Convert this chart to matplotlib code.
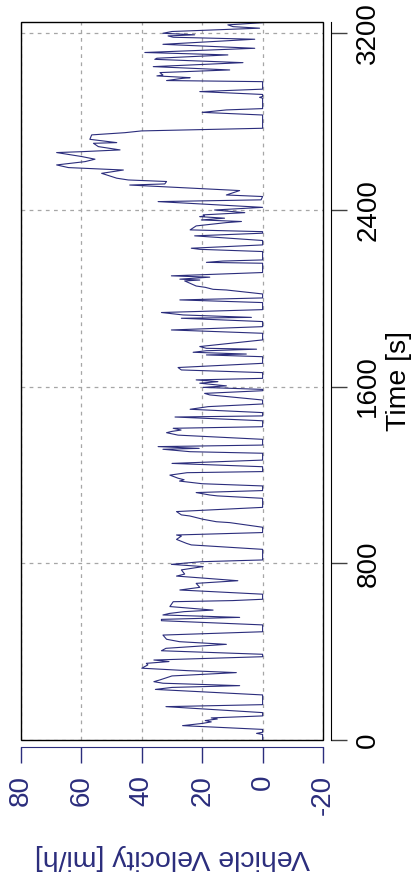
import matplotlib
matplotlib.use('Agg')
import matplotlib.pyplot as plt
from matplotlib.patches import Rectangle

# drive cycle trace (time in s, speed in mi/h)
time_s = [
    0, 25, 30, 35, 48, 65, 75, 82, 88, 95, 100, 109, 124, 151, 160,
    204, 229, 238, 246, 257, 264, 272, 290, 305, 314, 325, 340, 347, 355, 362,
    377, 388, 404, 415, 433, 445, 456, 475, 490, 521, 540, 546, 555, 566, 573,
    581, 588,
    604, 626, 631, 637, 660, 679, 687, 691, 709, 721, 742, 751, 770, 785, 795,
    800, 807, 815, 863, 883, 890, 908, 923, 928, 939, 963, 984, 988, 999, 1014,
    1019, 1034, 1053,
    1094, 1105, 1109, 1120, 1129, 1150, 1160, 1172, 1178, 1185, 1199, 1210, 1215,
    1237, 1252, 1267, 1298, 1305, 1310, 1316, 1320, 1328, 1335, 1361, 1380, 1391,
    1397, 1403, 1411, 1418, 1445, 1462, 1467, 1482, 1497, 1509, 1521, 1539,
    1562, 1569, 1581, 1587, 1596, 1603, 1615, 1622, 1630, 1637, 1663, 1675, 1686,
    1705, 1735, 1743, 1747, 1755, 1762, 1769, 1773, 1781, 1811, 1841, 1856, 1871,
    1894, 1909, 1913, 1924, 1935, 1948, 1980, 1992,
    2001, 2019, 2037, 2040, 2049, 2055, 2078, 2082, 2086, 2095, 2101, 2116, 2158,
    2162, 2168, 2173, 2211, 2221, 2226, 2241, 2261, 2282, 2294, 2301, 2309, 2327,
    2342, 2347, 2354, 2362, 2369, 2372, 2377, 2387, 2399, 2411, 2437, 2445,
    2460, 2467, 2487, 2493, 2512, 2517, 2528, 2535, 2543, 2565, 2580, 2591, 2603,
    2618, 2629, 2641, 2648, 2659, 2663, 2671, 2686, 2701, 2704, 2719, 2739, 2749,
    2757, 2769, 2829, 2841, 2852, 2858,
    2905, 2909, 2913, 2922, 2935, 2946, 2980, 2985, 2995, 2998, 3006, 3010, 3021,
    3033, 3048, 3066, 3081, 3086, 3101, 3112, 3131, 3149, 3172, 3181, 3187, 3192,
    3199, 3207, 3222, 3229, 3237, 3247, 3252,
]
speed_mph = [
    0, 0, 2, 0, 0, 26.5, 20, 17, 19, 15, 17, 0, 0, 32, 0,
    0, 35.5, 30, 7.6, 33, 36, 34, 30, 8.7, 25, 40, 38, 38.5, 31, 36,
    0, 0, 33.5, 32, 12, 27.5, 31.8, 33, 0, 0, 33.5, 33.5, 7.6, 33, 30.8,
    26, 16.4,
    30.7, 29.6, 10, 0, 0, 27.4, 23, 20.8, 22, 8.2, 28.5, 25.8, 26.9, 19.7, 30.2,
    26.3, 20.3, 0, 0, 23.6, 25.2, 28.5, 26.9, 28.5, 0, 0, 10.9, 15.3, 19.7, 24.1,
    26.9, 28.5, 0,
    0, 15, 17.5, 22, 0, 0, 20, 27.5, 26, 28, 30.7, 25, 0,
    0, 30, 0, 0, 24, 28, 33, 21, 34.6, 0, 0, 28, 31.8,
    30, 27, 29.6, 0, 0, 29, 0, 0, 24, 18, 0, 0,
    17.5, 19.2, 0, 0, 19.7, 12, 20.8, 14.8, 22, 0, 0, 26.9, 28,
    0, 0, 18.6, 5.4, 23, 18.6, 2, 18.6, 20.8, 0, 0, 30.2, 0,
    0, 26.9, 3.7, 26.3, 33.5, 0, 0, 27.4,
    0, 0, 12, 16.4, 19, 22, 25.8, 20.8, 27.4, 17.5, 30.2, 0, 0,
    18.6, 13.1, 0, 0, 20.8, 23.6, 0, 0, 22.5, 0, 0, 24, 22,
    12, 7, 20.3, 12.6, 20.8, 19.2, 19.7, 5.9, 15.9, 0, 34.6, 0.5,
    0, 12, 7.6, 16.4, 44, 32.4, 31.8, 44.5, 48.3, 53.3, 46.1, 64.3, 68.2,
    58.8, 55.5, 59.9, 63.2, 68.2, 59.9, 47.2, 54.4, 56, 48.3, 57.2, 56.6, 45.6,
    40.1, 0, 0, 20, 12, 0,
    0, 1, 0, 0, 20.8, 0, 0, 31.8, 26.5, 24, 35, 33, 34,
    10.9, 36.2, 6.5, 35.7, 35, 11.5, 39, 2.6, 33, 2.6, 29.6, 31.3, 22.5,
    33, 30, 1, 9.8, 11.5, 0, 0,
]

speed_ticks = [80, 60, 40, 20, 0, -20]
time_ticks = [0, 800, 1600, 2400, 3200]

navy = '#2b2d7c'
plt.rcParams['font.family'] = ['Liberation Sans', 'DejaVu Sans']

fig = plt.figure(figsize=(4.14, 8.90), dpi=100)
ax = fig.add_axes([21/414, 150/890, 302/414, 718/890])

ax.plot(speed_mph, time_s, color=navy, lw=0.8)

ax.set_xlim(80, -20)
ax.set_ylim(0, 3250)

# separate axis lines, box drawn on its own
for s in ax.spines.values():
    s.set_visible(False)
ax.spines['bottom'].set_visible(True)
ax.spines['bottom'].set_position(('outward', 5))
ax.spines['bottom'].set_color(navy)
ax.spines['right'].set_visible(True)
ax.spines['right'].set_position(('outward', 6))
ax.spines['right'].set_color('black')
ax.add_patch(Rectangle((0, 0), 1, 1, transform=ax.transAxes, fill=False,
                       ec='black', lw=1, clip_on=False, zorder=5))

ax.yaxis.tick_right()
ax.yaxis.set_label_position('right')

ax.tick_params(axis='x', direction='out', length=11.5, width=1, color=navy,
               labelcolor=navy, pad=8.5, labelsize=20, labelrotation=90)
ax.tick_params(axis='y', direction='out', length=11.5, width=1, color='#404040',
               pad=5.8, labelsize=20, labelrotation=90)

ax.set_xticks(speed_ticks)
ax.set_xticklabels([str(v) for v in speed_ticks])
ax.set_yticks(time_ticks)
ax.set_yticklabels([str(t) for t in time_ticks])
for tick in ax.yaxis.get_major_ticks():
    tick.label2.set_va('center')

ax.grid(True, color='#a6a6a6', linestyle=(0, (3, 3.5)), lw=0.9)

ax.set_xlabel('Vehicle Velocity [mi/h]', rotation=180, color=navy, fontsize=20.5,
              labelpad=21)
ax.set_ylabel('Time [s]', fontsize=20.5, labelpad=3)

fig.savefig('out.png', dpi=100, facecolor='white')
